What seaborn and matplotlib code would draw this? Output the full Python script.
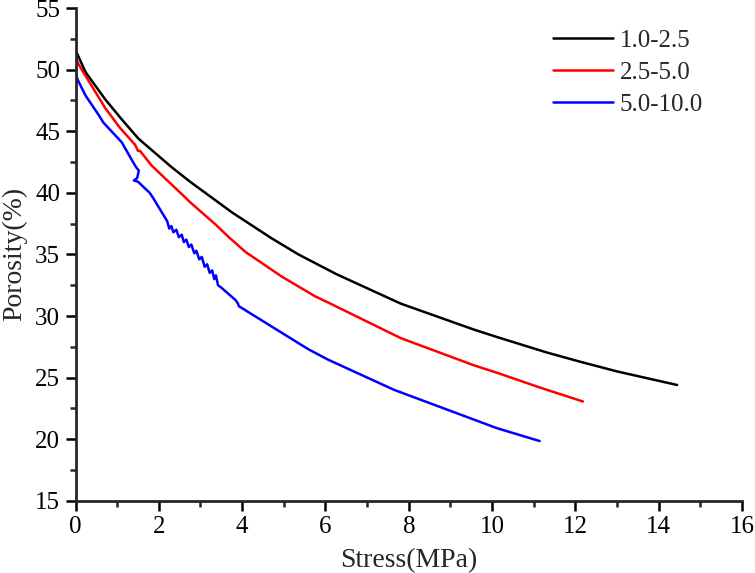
import pandas as pd
import matplotlib
matplotlib.use("Agg")
import matplotlib.pyplot as plt
from matplotlib.ticker import MultipleLocator
import seaborn as sns

# values
labels = ["1.0-2.5", "2.5-5.0", "5.0-10.0"]
colors = ["#000000", "#ff0000", "#0000ff"]

stress_a = [0.0, 0.08, 0.24, 0.71, 1.1, 1.51, 2.3, 2.73, 3.76, 4.71, 5.35, 6.26,
            7.81, 9.56, 10.11, 11.3, 12.1, 13.0, 14.44]
poro_a = [51.6, 51.0, 49.8, 47.6, 46.0, 44.4, 42.1, 40.95, 38.4, 36.3, 35.0, 33.4,
          31.0, 28.9, 28.3, 27.05, 26.3, 25.5, 24.4]

stress_b = [0.0, 0.08, 0.24, 0.71, 1.06, 1.43, 1.5, 1.55, 1.83, 2.61, 2.73, 3.37,
            3.68, 4.08, 4.95, 5.75, 6.06, 7.81, 9.56, 10.11, 11.14, 12.18]
poro_b = [51.0, 50.4, 49.5, 46.9, 45.3, 43.9, 43.4, 43.4, 42.2, 39.7, 39.3, 37.4,
          36.4, 35.2, 33.2, 31.6, 31.1, 28.2, 26.0, 25.4, 24.2, 23.06]

stress_c = [0.0, 0.05, 0.24, 0.56, 0.67, 1.11, 1.38, 1.45, 1.52, 1.48, 1.40, 1.5,
            1.78, 1.86, 2.2, 2.25, 2.3, 2.35, 2.42, 2.48, 2.55, 2.6, 2.66, 2.72,
            2.78, 2.85, 2.9, 2.97, 3.03, 3.1, 3.16, 3.22, 3.28, 3.33, 3.37, 3.42,
            3.5, 3.84, 3.9, 3.92, 4.3, 5.35, 5.59, 6.06, 7.65, 8.92, 10.11, 11.14]
poro_c = [49.8, 49.2, 47.9, 46.3, 45.7, 44.1, 42.5, 42.1, 41.8, 41.2, 41.0, 40.9,
          40.0, 39.6, 37.7, 37.1, 37.3, 36.8, 37.0, 36.4, 36.6, 36.0, 36.2, 35.6,
          35.8, 35.1, 35.3, 34.6, 34.8, 34.0, 34.2, 33.5, 33.7, 33.0, 33.3, 32.5,
          32.3, 31.3, 31.0, 30.8, 30.0, 27.8, 27.3, 26.46, 24.0, 22.4, 20.9, 19.85]

frames = []
for lab, xs, ys in zip(labels, [stress_a, stress_b, stress_c], [poro_a, poro_b, poro_c]):
    frames.append(pd.DataFrame({"Stress": xs, "Porosity": ys, "Size": lab}))
df = pd.concat(frames, ignore_index=True)

sns.set_style("ticks")
plt.rcParams["font.family"] = ["Liberation Serif", "DejaVu Serif"]

fig, ax = plt.subplots(figsize=(7.55, 5.73), dpi=100)
fig.subplots_adjust(left=0.1, right=0.983, bottom=0.126, top=0.986)

sns.lineplot(data=df, x="Stress", y="Porosity", hue="Size", hue_order=labels,
             palette=colors, sort=False, estimator=None, units="Size",
             linewidth=1.8, ax=ax)

ax.set_xlim(0, 16)
ax.set_ylim(15, 55)
ax.xaxis.set_major_locator(MultipleLocator(2))
ax.xaxis.set_minor_locator(MultipleLocator(1))
ax.yaxis.set_major_locator(MultipleLocator(5))
ax.yaxis.set_minor_locator(MultipleLocator(2.5))

sns.despine(ax=ax)
for side in ["left", "bottom"]:
    ax.spines[side].set_linewidth(2.0)
ax.tick_params(which="major", direction="out", length=7, width=1.8, labelsize=18,
               colors="black", pad=4)
ax.tick_params(which="minor", direction="out", length=4.5, width=1.8)

ax.set_xlabel("Stress(MPa)", fontsize=20, labelpad=7)
ax.set_ylabel("Porosity(%)", fontsize=20, labelpad=5.5)

leg = ax.legend(loc="upper left", bbox_to_anchor=(0.716, 0.956), frameon=False,
                fontsize=18, handlelength=2.4, handletextpad=0.28,
                labelspacing=0.38, borderpad=0, borderaxespad=0)
for line in leg.get_lines():
    line.set_linewidth(1.8)

fig.savefig("out.png", dpi=100)
